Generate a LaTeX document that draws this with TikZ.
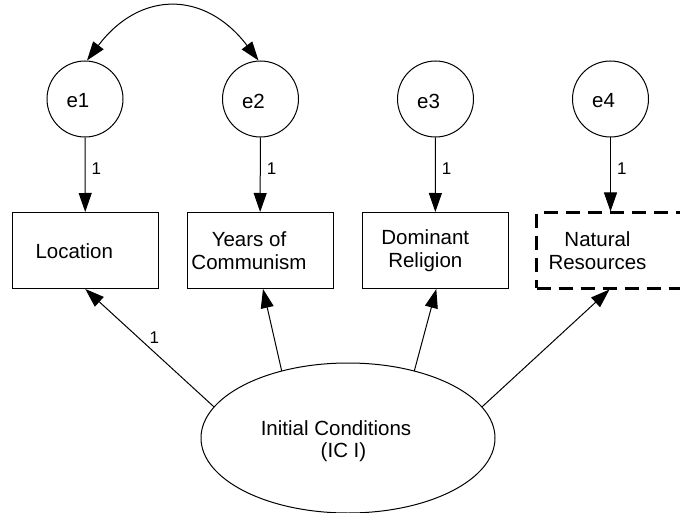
\documentclass[tikz,border=0pt]{standalone}
\usepackage{fontspec}
\setmainfont{Liberation Sans}
\usetikzlibrary{arrows.meta,shapes.geometric,calc}

\tikzset{
  arr/.style={-{Triangle[length=19pt,width=13pt]}, line width=1pt},
  errc/.style={circle, draw, line width=1pt, minimum size=76pt, inner sep=0pt},
  obsbox/.style={rectangle, draw, line width=1pt, minimum width=146pt, minimum height=76pt, inner sep=0pt},
  dashbox/.style={rectangle, draw, line width=3pt, dash pattern=on 14pt off 8pt, minimum width=160pt, minimum height=75pt, inner sep=0pt},
  latent/.style={ellipse, draw, line width=1pt, minimum width=294pt, minimum height=150pt, inner sep=0pt},
  txt/.style={inner sep=0pt, align=center, font=\fontsize{20.5}{22.5}\selectfont},
  one/.style={inner sep=0pt, font=\fontsize{17}{19}\selectfont},
}

\begin{document}
\begin{tikzpicture}[x=1pt, y=-1pt]
\useasboundingbox (0,0) rectangle (680,513);
\clip (0,0) rectangle (680,513);

% error terms
\node[errc] (e1) at (85,99) {};
\node[errc] (e2) at (260.5,99) {};
\node[errc] (e3) at (435.5,99) {};
\node[errc] (e4) at (610.5,99) {};
\node[txt] at ([xshift=-7pt,yshift=-2pt]e1.center) {e1};
\node[txt] at ([xshift=-7pt,yshift=-2pt]e2.center) {e2};
\node[txt] at ([xshift=-7pt,yshift=-2pt]e3.center) {e3};
\node[txt] at ([xshift=-7pt,yshift=-2pt]e4.center) {e4};

% observed indicators
\node[obsbox] (loc) at (85.3,250.5) {};
\node[obsbox] (yrs) at (260,250.5) {};
\node[obsbox] (dom) at (435.3,250.5) {};
\node[dashbox] (nat) at (616.5,250.5) {};
\node[txt] at ([xshift=-11pt,yshift=-1pt]loc.center) {Location};
\node[txt] at ([xshift=-11pt]yrs.center) {Years of\\Communism};
\node[txt] at ([xshift=-10pt]dom.center) {Dominant\\Religion};
\node[txt] at ([xshift=-19pt]nat.center) {Natural\\Resources};

% latent factor
\node[latent] (ic) at (348,438) {};
\node[txt] at ([xshift=-12pt,yshift=-3pt]ic.center) {Initial Conditions\\\hspace*{15pt}(IC I)};

% attachment points on the ellipse
\coordinate (s1) at ($(ic.center)+(155.6:147pt and 75pt)$);
\coordinate (s2) at ($(ic.center)+(116.8:147pt and 75pt)$);
\coordinate (s3) at ($(ic.center)+(63.2:147pt and 75pt)$);
\coordinate (s4) at ($(ic.center)+(24.4:147pt and 75pt)$);
\coordinate (n4) at (e4 |- nat.south);

% error paths
\draw[arr] (e1) -- (loc) node[one, pos=0.42, anchor=west, xshift=6pt] {1};
\draw[arr] (e2) -- (yrs) node[one, pos=0.42, anchor=west, xshift=6pt] {1};
\draw[arr] (e3) -- (dom) node[one, pos=0.42, anchor=west, xshift=6pt] {1};
\draw[arr] (e4) -- (e4 |- nat.north) node[one, pos=0.42, anchor=west, xshift=6pt] {1};

% loadings
\draw[arr] (s1) -- (loc.south) node[one, pos=0.59, anchor=west, xshift=11pt] {1};
\draw[arr] (s2) -- ([xshift=3pt]yrs.south);
\draw[arr] (s3) -- ([xshift=1pt]dom.south);
\draw[arr] (s4) -- ([xshift=-1pt]n4);

% covariance between e1 and e2
\draw[{Triangle[length=19pt,width=13pt]}-{Triangle[length=19pt,width=13pt]}, line width=1pt]
  ([xshift=2pt]e1.north) .. controls (140,-9.7) and (205,-9.7) .. ([xshift=-2pt]e2.north);
\end{tikzpicture}
\end{document}
